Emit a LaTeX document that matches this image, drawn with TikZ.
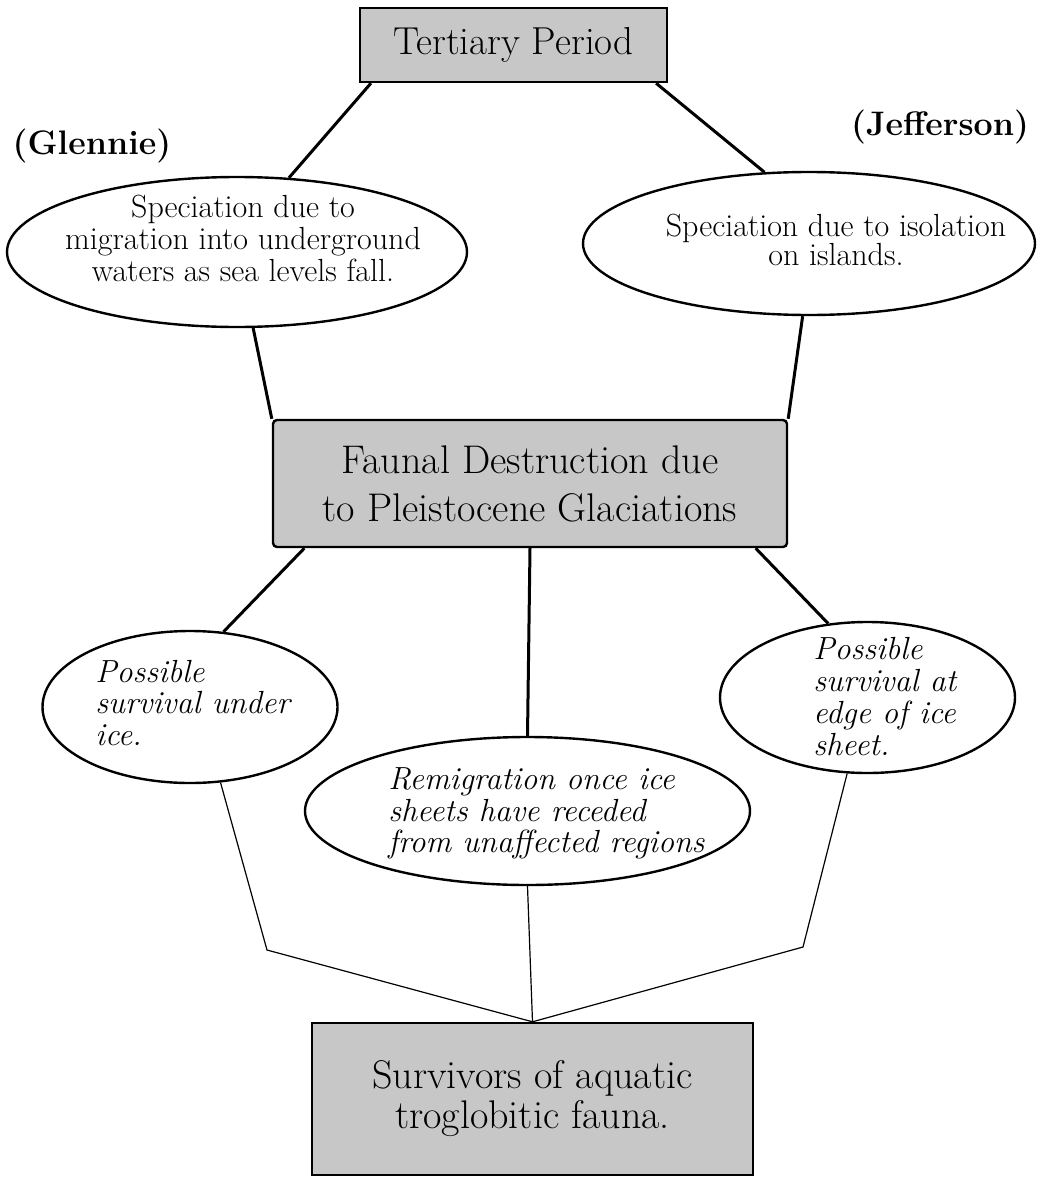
\documentclass[tikz,border=0pt]{standalone}
\usepackage{fontspec}
\usetikzlibrary{shapes.geometric}

\tikzset{
  greybox/.style={draw, line width=1.2pt, fill=black!22, inner sep=0pt, align=center},
  oval/.style={ellipse, draw, line width=1.2pt, inner sep=0pt},
  ovaltext/.style={inner sep=0pt, font=\fontsize{16}{16}\selectfont},
  ovalital/.style={inner sep=0pt, anchor=west, align=left, font=\fontsize{16}{15.8}\selectfont\itshape},
  thickline/.style={line width=1.5pt},
  thinline/.style={line width=0.6pt}
}

\begin{document}
\begin{tikzpicture}[x=0.5pt, y=-0.5pt]
  \useasboundingbox (0,0) rectangle (1044,1178);
  \fill[white] (0,0) rectangle (1044,1178);

  \node[greybox, minimum width=153.5pt, minimum height=37pt, font=\fontsize{19.5}{20}\selectfont] (tert) at (513.5,45) {Tertiary Period};
  \node[font=\fontsize{17}{17}\selectfont\bfseries, inner sep=0pt] (glennie) at (92,146) {(Glennie)};
  \node[font=\fontsize{17}{17}\selectfont\bfseries, inner sep=0pt] (jefferson) at (940,127) {(Jefferson)};

  \node[oval, minimum width=230pt, minimum height=75pt] (migr) at (237,252) {};
  \node[ovaltext, align=center] (migrtext) at (243,238) {Speciation due to\\migration into underground\\waters as sea levels fall.};
  \node[oval, minimum width=226pt, minimum height=71.5pt] (isol) at (809,243.5) {};
  \node[ovaltext, align=center, font=\fontsize{16}{14.5}\selectfont] (isoltext) at (836,239.5) {Speciation due to isolation\\on islands.};

  \node[greybox, rounded corners=2pt, minimum width=257pt, minimum height=63.5pt, font=\fontsize{20}{24}\selectfont] (faun) at (530,483.5) {Faunal Destruction due\\to Pleistocene Glaciations};

  \node[oval, minimum width=147.5pt, minimum height=76pt] (under) at (190,707) {};
  \node[ovalital] (undertext) at (95,703) {Possible\\survival under\\ice.};
  \node[oval, minimum width=147.5pt, minimum height=75.5pt] (iceedge) at (867.5,697.5) {};
  \node[ovalital, font=\fontsize{16}{16}\selectfont\itshape] (iceedgetext) at (813,697) {Possible\\survival at\\edge of ice\\sheet.};
  \node[oval, minimum width=222.5pt, minimum height=74pt] (remig) at (527.5,811) {};
  \node[ovalital] (remigtext) at (388,813.5) {Remigration once ice\\sheets have receded\\from unaffected regions};

  \node[greybox, minimum width=220.5pt, minimum height=76pt, font=\fontsize{20}{20}\selectfont] (surv) at (532.5,1099) {Survivors of aquatic\\troglobitic fauna.};

  \draw[thickline] (tert.-165) -- (migr.55);
  \draw[thickline] (tert.-15) -- (isol.122);
  \draw[thickline] (migr.-78) -- (faun.north west);
  \draw[thickline] (isol.-95) -- (faun.north east);
  \draw[thickline] (faun.-164) -- (under.66);
  \draw[thickline] (faun.south) -- (remig.north);
  \draw[thickline] (faun.-16) -- (iceedge.118);

  \coordinate (lbend) at (267,950);
  \coordinate (rbend) at (803,947);
  \draw[thinline] (under.-68) -- (lbend) -- (surv.north);
  \draw[thinline] (remig.south) -- (surv.north);
  \draw[thinline] (iceedge.-105) -- (rbend) -- (surv.north);
\end{tikzpicture}
\end{document}
